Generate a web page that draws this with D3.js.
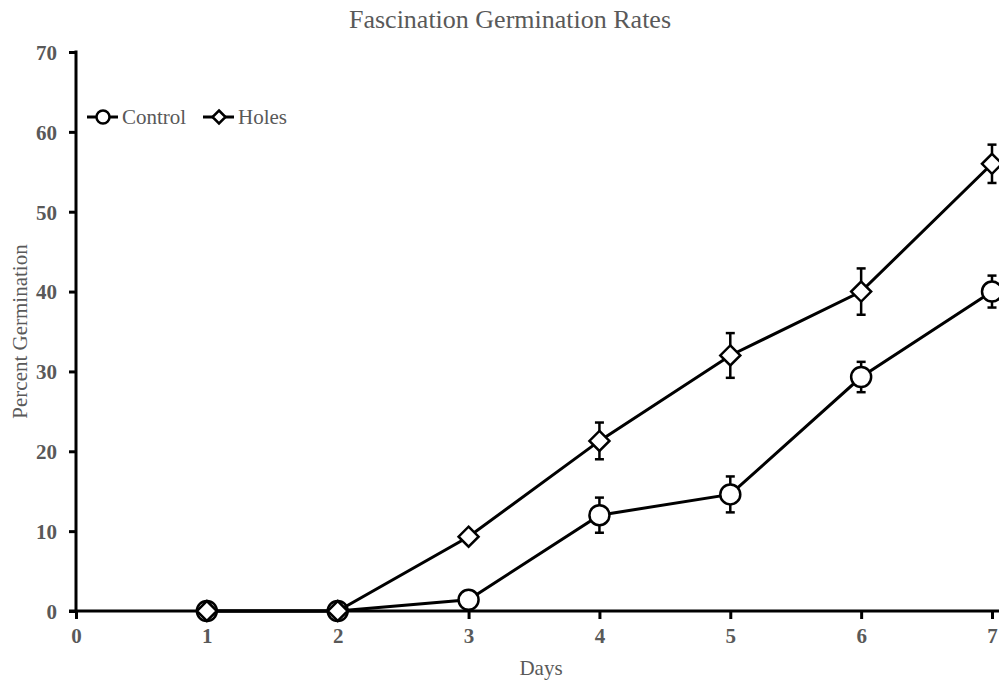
<!DOCTYPE html>
<html>
<head>
<meta charset="utf-8">
<script src="https://cdn.jsdelivr.net/npm/d3@7"></script>
<style>
  body { margin: 0; background: #fff; }
  text { font-family: "Liberation Serif", "Times New Roman", serif; fill: #595959; }
  .tick text { font-weight: bold; font-size: 21px; }
</style>
</head>
<body>
<svg id="chart" width="999" height="682"></svg>
<script>
// germination data
var days = [1, 2, 3, 4, 5, 6, 7];
var controlVals = [0, 0, 1.4, 12, 14.6, 29.3, 40];
var controlErr = [0, 0, 0, 2.2, 2.25, 1.9, 2.0];
var holesVals = [0, 0, 9.3, 21.3, 32, 40, 56];
var holesErr = [0, 0, 0, 2.3, 2.8, 2.9, 2.4];
var yTicks = [0, 10, 20, 30, 40, 50, 60, 70];
var xTicks = [0, 1, 2, 3, 4, 5, 6, 7];

var svg = d3.select("#chart");

var x = d3.scaleLinear().domain([0, 7]).range([76, 992]);
var y = d3.scaleLinear().domain([0, 70]).range([611, 52]);

// square diamond, r = half diagonal
function diamond(r){
	return "M0," + (-r) + "L" + r + ",0L0," + r + "L" + (-r) + ",0Z";
}
function circle(r){
	return d3.symbol().type(d3.symbolCircle).size(Math.PI * r * r)();
}

// title
svg.append("text")
	.attr("x", 510).attr("y", 28)
	.attr("text-anchor", "middle")
	.style("font-size", "26px")
	.text("Fascination Germination Rates");

// axes
var yAxis = svg.append("g")
	.attr("transform", "translate(" + x(0) + ",0)")
	.call(d3.axisLeft(y).tickValues(yTicks).tickSize(7).tickPadding(12).tickFormat(d3.format("d")));
var xAxis = svg.append("g")
	.attr("transform", "translate(0," + y(0) + ")")
	.call(d3.axisBottom(x).tickValues(xTicks).tickSize(7).tickPadding(10).tickFormat(d3.format("d")));

[yAxis, xAxis].forEach(function(ax){
	ax.select(".domain").remove();
	ax.selectAll(".tick line").attr("stroke", "#000").attr("stroke-width", 3);
});
yAxis.selectAll(".tick line").attr("x1", -7).attr("x2", 0);
yAxis.selectAll(".tick text").attr("dy", "0.35em");
xAxis.selectAll(".tick line").attr("y1", 0).attr("y2", 8);

svg.append("line")
	.attr("x1", x(0)).attr("x2", x(0))
	.attr("y1", y(70) - 1.5).attr("y2", y(0) + 1.5)
	.attr("stroke", "#000").attr("stroke-width", 3);
svg.append("line")
	.attr("x1", x(0) - 7).attr("x2", 999)
	.attr("y1", y(0)).attr("y2", y(0))
	.attr("stroke", "#000").attr("stroke-width", 3);

// axis titles
svg.append("text")
	.attr("transform", "translate(27," + y(35) + ") rotate(-90)")
	.attr("text-anchor", "middle")
	.style("font-size", "21px")
	.text("Percent Germination");
svg.append("text")
	.attr("x", 541).attr("y", 675)
	.attr("text-anchor", "middle")
	.style("font-size", "21px")
	.text("Days");

var line = d3.line()
	.x(function(d){ return x(d.day); })
	.y(function(d){ return y(d.val); });

var series = [
	{ name: "Control", vals: controlVals, err: controlErr, shape: circle, r: 10, legR: 6.5 },
	{ name: "Holes", vals: holesVals, err: holesErr, shape: diamond, r: 10, legR: 6.5 }
];

series.forEach(function(s){
	var pts = days.map(function(d, i){ return { day: d, val: s.vals[i], err: s.err[i] }; });
	var g = svg.append("g");

	g.append("path")
		.datum(pts)
		.attr("d", line)
		.attr("fill", "none")
		.attr("stroke", "#000")
		.attr("stroke-width", 3);

	var eb = g.selectAll(".err")
		.data(pts.filter(function(p){ return p.err > 0; }))
		.enter().append("g")
		.attr("stroke", "#000")
		.attr("stroke-width", 2.5);
	eb.append("line")
		.attr("x1", function(p){ return x(p.day); })
		.attr("x2", function(p){ return x(p.day); })
		.attr("y1", function(p){ return y(p.val + p.err); })
		.attr("y2", function(p){ return y(p.val - p.err); });
	eb.append("line")
		.attr("x1", function(p){ return x(p.day) - 4.5; })
		.attr("x2", function(p){ return x(p.day) + 4.5; })
		.attr("y1", function(p){ return y(p.val + p.err); })
		.attr("y2", function(p){ return y(p.val + p.err); });
	eb.append("line")
		.attr("x1", function(p){ return x(p.day) - 4.5; })
		.attr("x2", function(p){ return x(p.day) + 4.5; })
		.attr("y1", function(p){ return y(p.val - p.err); })
		.attr("y2", function(p){ return y(p.val - p.err); });

	g.selectAll(".mark")
		.data(pts)
		.enter().append("path")
		.attr("d", s.shape(s.r))
		.attr("transform", function(p){ return "translate(" + x(p.day) + "," + y(p.val) + ")"; })
		.attr("fill", "#fff")
		.attr("stroke", "#000")
		.attr("stroke-width", 2.5);
});

// legend
var legend = svg.append("g").attr("transform", "translate(87,117)");
var legX = [0, 116];
series.forEach(function(s, i){
	var lg = legend.append("g").attr("transform", "translate(" + legX[i] + ",0)");
	lg.append("line").attr("x1", 0).attr("x2", 31).attr("y1", 0).attr("y2", 0)
		.attr("stroke", "#000").attr("stroke-width", 3);
	lg.append("path")
		.attr("d", s.shape(s.legR))
		.attr("transform", "translate(16,0)")
		.attr("fill", "#fff").attr("stroke", "#000").attr("stroke-width", 2.5);
	lg.append("text")
		.attr("x", 35).attr("y", 7)
		.style("font-size", "21px")
		.text(s.name);
});
</script>
</body>
</html>
